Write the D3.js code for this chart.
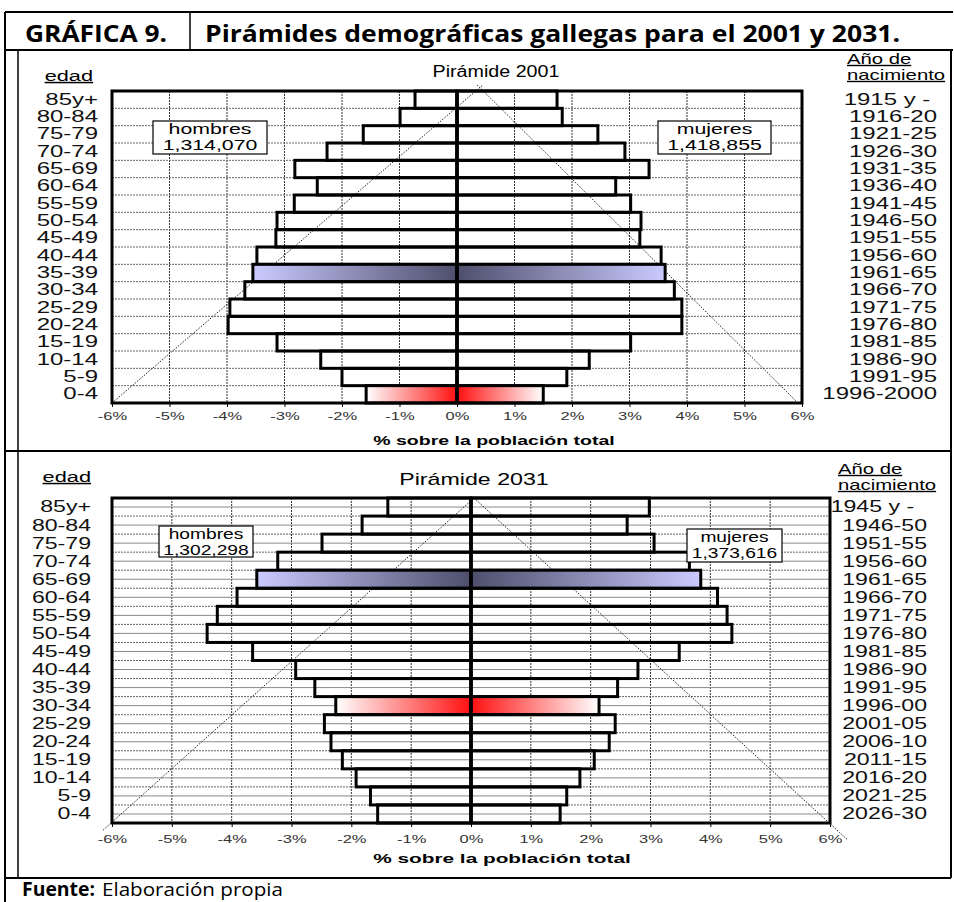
<!DOCTYPE html>
<html>
<head>
<meta charset="utf-8">
<script src="https://cdn.jsdelivr.net/npm/d3@7"></script>
<style>
  body { margin: 0; background: #fff; }
  svg { display: block; }
</style>
</head>
<body>
<div id="chart"></div>
<script>
// Age groups, top to bottom
const ageGroups = ['85y+', '80-84', '75-79', '70-74', '65-69', '60-64', '55-59', '50-54', '45-49',
  '40-44', '35-39', '30-34', '25-29', '20-24', '15-19', '10-14', '5-9', '0-4'];

const birth2001 = ['1915 y -\u00a0', '1916-20', '1921-25', '1926-30', '1931-35', '1936-40', '1941-45',
  '1946-50', '1951-55', '1956-60', '1961-65', '1966-70', '1971-75', '1976-80', '1981-85', '1986-90',
  '1991-95', '1996-2000'];
const birth2031 = ['1945 y -\u00a0\u00a0', '1946-50', '1951-55', '1956-60', '1961-65', '1966-70', '1971-75',
  '1976-80', '1981-85', '1986-90', '1991-95', '1996-00', '2001-05', '2006-10', '2011-15', '2016-20',
  '2021-25', '2026-30'];

// % of total population
const men2001 = [0.73, 0.99, 1.63, 2.26, 2.82, 2.43, 2.83, 3.13, 3.15, 3.48, 3.55, 3.69, 3.95, 3.98, 3.13, 2.37, 2.0, 1.58];
const women2001 = [1.74, 1.83, 2.45, 2.92, 3.34, 2.76, 3.02, 3.20, 3.18, 3.55, 3.62, 3.78, 3.91, 3.91, 3.02, 2.30, 1.91, 1.50];
const men2031 = [1.39, 1.82, 2.49, 3.23, 3.58, 3.91, 4.24, 4.41, 3.65, 2.93, 2.61, 2.26, 2.45, 2.34, 2.15, 1.92, 1.68, 1.56];
const women2031 = [2.98, 2.61, 3.06, 3.65, 3.84, 4.12, 4.28, 4.36, 3.48, 2.79, 2.45, 2.14, 2.41, 2.31, 2.06, 1.82, 1.60, 1.49];

const totals2001 = ['1,314,070', '1,418,855'];
const totals2031 = ['1,302,298', '1,373,616'];

const xTicks = [-6, -5, -4, -3, -2, -1, 0, 1, 2, 3, 4, 5, 6];

const FONT = "'Liberation Sans', Arial, sans-serif";
const TITLE_FONT = "'Open Sans', 'Noto Sans', sans-serif";

const W = 954, H = 902;
const svg = d3.select('#chart').append('svg')
  .attr('width', W)
  .attr('height', H);

const defs = svg.append('defs');

function addGradient(id, stops) {
  const g = defs.append('linearGradient').attr('id', id)
    .attr('x1', '0%').attr('x2', '100%').attr('y1', '0%').attr('y2', '0%');
  stops.forEach(s => g.append('stop').attr('offset', s[0]).attr('stop-color', s[1]));
}
// left bars go from outer (left) to center (right), right bars the opposite
addGradient('blueL', [['0%', '#cacaff'], ['100%', '#4e4e6c']]);
addGradient('blueR', [['0%', '#4e4e6c'], ['100%', '#cacaff']]);
addGradient('redL', [['0%', '#ffffff'], ['100%', '#ff1010']]);
addGradient('redR', [['0%', '#ff1010'], ['100%', '#ffffff']]);

// the original chart text is stretched horizontally, so widen text around its anchor
function stretch(sel, sx) {
  sel.each(function() {
    const t = d3.select(this);
    const x0 = +t.attr('x') || 0;
    t.attr('transform', `translate(${x0},0) scale(${sx},1) translate(${-x0},0)`);
  });
  return sel;
}

/**
 * Table frame, header and footer
 */
function drawFrame() {
  const frame = svg.append('g').attr('stroke', '#000').attr('fill', 'none');
  const lines = [
    [5, 12, 953, 12, 2],
    [5, 12, 5, 902, 2],
    [190, 12, 190, 50, 1.5],
    [5, 50, 953, 50, 2],
    [18, 50, 18, 878, 1.5],
    [951, 50, 951, 878, 2],
    [5, 451, 951, 451, 2],
    [5, 878, 951, 878, 2]
  ];
  frame.selectAll('line').data(lines).enter().append('line')
    .attr('x1', d => d[0]).attr('y1', d => d[1])
    .attr('x2', d => d[2]).attr('y2', d => d[3])
    .attr('stroke-width', d => d[4]);

  svg.append('text')
    .attr('x', 25).attr('y', 42)
    .attr('textLength', 142).attr('lengthAdjust', 'spacingAndGlyphs')
    .style('font-family', TITLE_FONT).style('font-weight', 'bold').style('font-size', '24px')
    .text('GRÁFICA 9.');
  svg.append('text')
    .attr('x', 205).attr('y', 42)
    .attr('textLength', 695).attr('lengthAdjust', 'spacingAndGlyphs')
    .style('font-family', TITLE_FONT).style('font-weight', 'bold').style('font-size', '24px')
    .text('Pirámides demográficas gallegas para el 2001 y 2031.');

  svg.append('text')
    .attr('x', 22).attr('y', 896)
    .attr('textLength', 73).attr('lengthAdjust', 'spacingAndGlyphs')
    .style('font-family', TITLE_FONT).style('font-size', '19px').style('font-weight', 'bold')
    .text('Fuente:');
  svg.append('text')
    .attr('x', 102).attr('y', 896)
    .attr('textLength', 181).attr('lengthAdjust', 'spacingAndGlyphs')
    .style('font-family', TITLE_FONT).style('font-size', '19px')
    .text('Elaboración propia');
}

/**
 * Draw one pyramid
 */
function drawPyramid(cfg) {
  const g = svg.append('g');
  const x = d3.scaleLinear().domain([-6, 6]).range([cfg.left, cfg.right]);
  const y = d3.scaleBand().domain(ageGroups).range([cfg.top, cfg.bottom]).padding(0);
  const rowH = y.bandwidth();
  const rows = d3.scaleLinear().domain([0, ageGroups.length]).range([cfg.bottom, cfg.top]);
  const sx = cfg.stretch;

  // vertical dashed gridlines
  g.append('g').selectAll('line')
    .data(xTicks.filter(t => Math.abs(t) < 6 && t !== 0))
    .enter().append('line')
    .attr('x1', d => x(d)).attr('x2', d => x(d))
    .attr('y1', cfg.top).attr('y2', cfg.bottom)
    .attr('stroke', '#333').attr('stroke-width', 1).attr('stroke-dasharray', '2,1');

  // horizontal dashed gridlines at band edges
  g.append('g').selectAll('line')
    .data(ageGroups.slice(1))
    .enter().append('line')
    .attr('x1', cfg.left).attr('x2', cfg.right)
    .attr('y1', d => y(d)).attr('y2', d => y(d))
    .attr('stroke', '#666').attr('stroke-width', 1).attr('stroke-dasharray', '2,1');

  // extra solid lines through the middle of each band (2031 chart)
  if (cfg.midLines) {
    g.append('g').selectAll('line')
      .data(ageGroups)
      .enter().append('line')
      .attr('x1', cfg.left).attr('x2', cfg.right)
      .attr('y1', d => y(d) + rowH / 2).attr('y2', d => y(d) + rowH / 2)
      .attr('stroke', '#8a8a8a').attr('stroke-width', 1);
  }

  // diagonal reference lines
  g.append('g').selectAll('line')
    .data(cfg.diagonals)
    .enter().append('line')
    .attr('x1', d => x(d[0])).attr('y1', d => rows(d[1]))
    .attr('x2', d => x(d[2])).attr('y2', d => rows(d[3]))
    .attr('stroke', '#222').attr('stroke-width', 1).attr('stroke-dasharray', '1.5,1.5');

  const fillFor = (age, side) => {
    if (age === cfg.blueAge) return `url(#blue${side})`;
    if (age === cfg.redAge) return `url(#red${side})`;
    return 'none';
  };

  // men (left)
  g.append('g').selectAll('rect')
    .data(ageGroups.map((a, i) => ({ age: a, v: cfg.men[i] })))
    .enter().append('rect')
    .attr('x', d => x(-d.v)).attr('width', d => x(0) - x(-d.v))
    .attr('y', d => y(d.age)).attr('height', rowH)
    .attr('fill', d => fillFor(d.age, 'L'))
    .attr('stroke', '#000').attr('stroke-width', 3);

  // women (right)
  g.append('g').selectAll('rect')
    .data(ageGroups.map((a, i) => ({ age: a, v: cfg.women[i] })))
    .enter().append('rect')
    .attr('x', x(0)).attr('width', d => x(d.v) - x(0))
    .attr('y', d => y(d.age)).attr('height', rowH)
    .attr('fill', d => fillFor(d.age, 'R'))
    .attr('stroke', '#000').attr('stroke-width', 3);

  // center axis and plot frame
  g.append('line')
    .attr('x1', x(0)).attr('x2', x(0)).attr('y1', cfg.top).attr('y2', cfg.bottom)
    .attr('stroke', '#000').attr('stroke-width', 3.5);
  g.append('rect')
    .attr('x', cfg.left).attr('y', cfg.top)
    .attr('width', cfg.right - cfg.left).attr('height', cfg.bottom - cfg.top)
    .attr('fill', 'none').attr('stroke', '#000').attr('stroke-width', 3);

  // x axis
  const xAxis = g.append('g')
    .attr('transform', `translate(0,${cfg.bottom + 1})`)
    .call(d3.axisBottom(x).tickValues(xTicks).tickFormat(d => d + '%').tickSize(3).tickPadding(0));
  xAxis.select('.domain').remove();
  xAxis.selectAll('line').attr('stroke', '#000');
  xAxis.selectAll('text')
    .attr('y', cfg.tickY - cfg.bottom - 1).attr('dy', null)
    .style('font-family', FONT).style('font-size', '11px').attr('fill', '#333');
  stretch(xAxis.selectAll('text'), 1.5);

  stretch(g.append('text')
    .attr('x', cfg.xTitleX).attr('y', cfg.xTitleY)
    .attr('text-anchor', 'middle')
    .style('font-family', FONT).style('font-size', '13px').style('font-weight', 'bold')
    .text('% sobre la población total'), cfg.xTitleStretch);

  // age labels (left)
  const yAxis = g.append('g')
    .attr('transform', `translate(${cfg.ageRight},0)`)
    .call(d3.axisLeft(y).tickSize(0).tickPadding(0));
  yAxis.select('.domain').remove();
  yAxis.selectAll('text')
    .style('font-family', FONT).style('font-size', cfg.labelFont).attr('fill', '#111');
  stretch(yAxis.selectAll('text'), sx);

  // birth year labels (right)
  const yRight = d3.scaleBand().domain(cfg.birth).range([cfg.top, cfg.bottom]).padding(0);
  const rAxis = g.append('g')
    .attr('transform', `translate(${cfg.yearRight},0)`)
    .call(d3.axisRight(yRight).tickSize(0).tickPadding(0));
  rAxis.select('.domain').remove();
  rAxis.selectAll('text')
    .attr('text-anchor', 'end')
    .style('font-family', FONT).style('font-size', cfg.labelFont).attr('fill', '#111');
  stretch(rAxis.selectAll('text'), sx);

  // headings
  stretch(g.append('text')
    .attr('x', cfg.edadRight).attr('y', cfg.edadY)
    .attr('text-anchor', 'end')
    .style('font-family', FONT).style('font-size', '15px').style('text-decoration', 'underline')
    .text('edad'), 1.45);
  stretch(g.append('text')
    .attr('x', cfg.titleX).attr('y', cfg.titleY)
    .attr('text-anchor', 'middle')
    .style('font-family', FONT).style('font-size', '16px')
    .text(cfg.title), cfg.titleStretch);
  stretch(g.append('text')
    .attr('x', cfg.yearHeadX).attr('y', cfg.yearHeadY - 16)
    .style('font-family', FONT).style('font-size', '14px').style('text-decoration', 'underline')
    .text('Año de'), 1.45);
  stretch(g.append('text')
    .attr('x', cfg.yearHeadX).attr('y', cfg.yearHeadY)
    .style('font-family', FONT).style('font-size', '14px').style('text-decoration', 'underline')
    .text('nacimiento'), 1.45);

  // legend boxes
  const boxes = [
    { box: cfg.menBox, label: 'hombres', total: cfg.totals[0] },
    { box: cfg.womenBox, label: 'mujeres', total: cfg.totals[1] }
  ];
  boxes.forEach(b => {
    const [bx, by, bw, bh] = b.box;
    g.append('rect')
      .attr('x', bx).attr('y', by).attr('width', bw).attr('height', bh)
      .attr('fill', '#fff').attr('stroke', '#000').attr('stroke-width', 1.2);
    stretch(g.append('text')
      .attr('x', bx + bw / 2).attr('y', by + 13)
      .attr('text-anchor', 'middle')
      .style('font-family', FONT).style('font-size', cfg.boxFont)
      .text(b.label), cfg.boxStretch);
    stretch(g.append('text')
      .attr('x', bx + bw / 2).attr('y', by + 29)
      .attr('text-anchor', 'middle')
      .style('font-family', FONT).style('font-size', cfg.boxFont)
      .text(b.total), cfg.boxStretch);
  });
}

drawFrame();

drawPyramid({
  title: 'Pirámide 2001', titleX: 496, titleY: 77, titleStretch: 1.23,
  left: 112, right: 802, top: 91, bottom: 403,
  ageRight: 98, edadRight: 93, yearRight: 937, yearHeadX: 847, yearHeadY: 80, edadY: 81,
  tickY: 420, xTitleX: 494, xTitleY: 445, xTitleStretch: 1.5,
  labelFont: '16px', stretch: 1.5,
  men: men2001, women: women2001, birth: birth2001, totals: totals2001,
  blueAge: '35-39', redAge: '0-4',
  midLines: false,
  diagonals: [[-6, 0, 0.45, 18.35], [0.35, 18.35, 5.9, 0.1]],
  menBox: [153, 121, 114, 33], womenBox: [658, 121, 113, 33], boxFont: '15px', boxStretch: 1.42
});

drawPyramid({
  title: 'Pirámide 2031', titleX: 474, titleY: 485, titleStretch: 1.45,
  left: 112, right: 830, top: 498, bottom: 823,
  ageRight: 91, edadRight: 91, yearRight: 927, yearHeadX: 838, yearHeadY: 490, edadY: 482,
  tickY: 843, xTitleX: 502, xTitleY: 863, xTitleStretch: 1.6,
  labelFont: '17px', stretch: 1.36,
  men: men2031, women: women2031, birth: birth2031, totals: totals2031,
  blueAge: '65-69', redAge: '30-34',
  midLines: true,
  diagonals: [[-6.15, -0.4, 0.05, 18], [0.05, 18, 6.3, -0.95]],
  menBox: [159, 526, 94, 31], womenBox: [687, 529, 95, 33], boxFont: '14px', boxStretch: 1.37
});
</script>
</body>
</html>
